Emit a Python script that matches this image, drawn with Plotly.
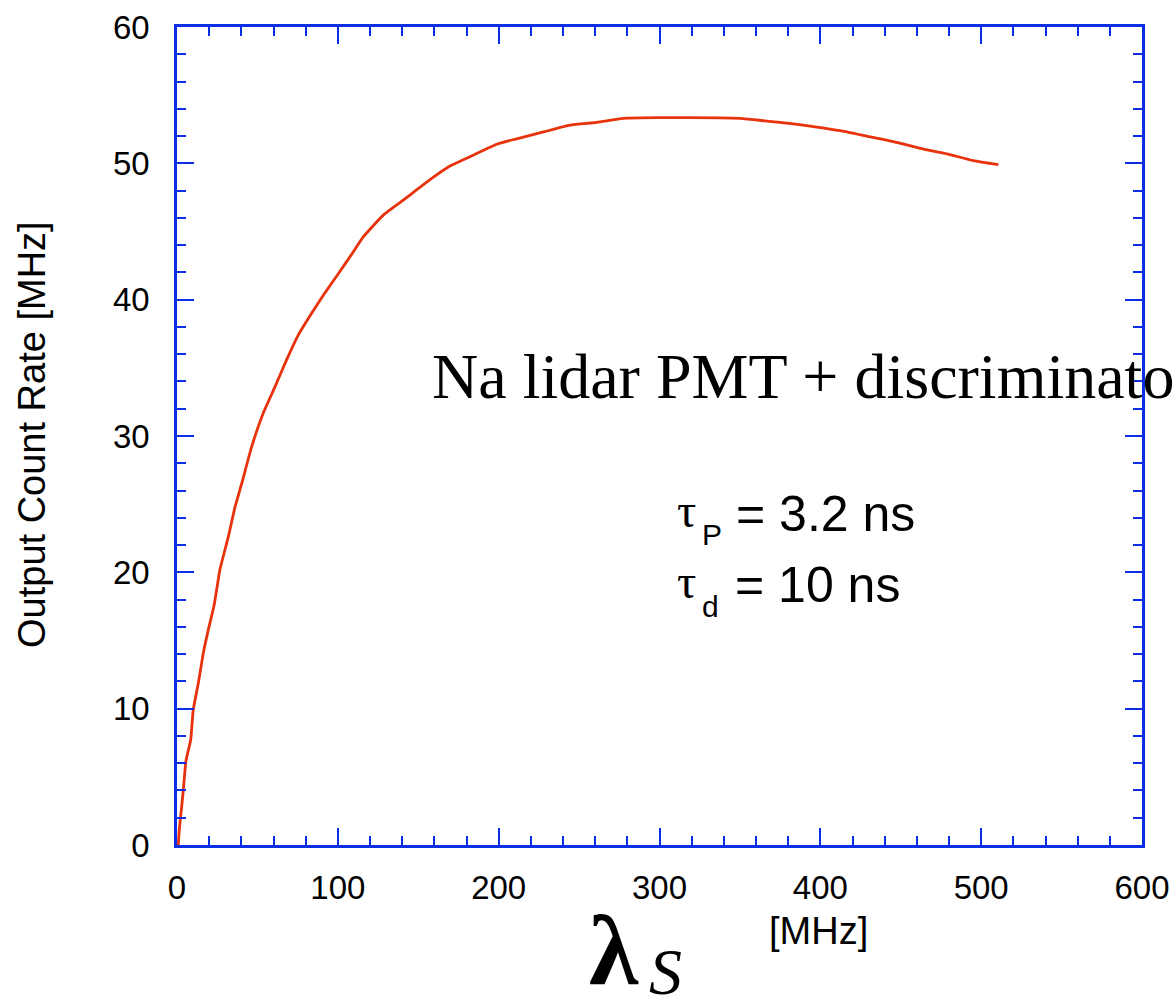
import plotly.graph_objects as go

# Data
lambda_s_mhz = [0.8, 1.4, 2.9, 3.9, 5.6, 8.5, 10.1, 13.3, 16.4, 19.5, 23.1, 26.7, 31.9,
                36.1, 40.2, 46.4, 53.7, 60.9, 68.2, 75.4, 83.7, 92.0, 100.3, 109.6, 115.8,
                128.3, 140.7, 157.3, 169.7, 184.2, 198.8, 211.2, 227.8, 244.4, 261.0, 277.5,
                300.0, 350.0, 366.7, 383.2, 395.6, 412.2, 428.8, 445.4, 462.0, 478.6, 495.1,
                510.7]
output_rate_mhz = [0.0, 1.1, 2.8, 4.0, 6.2, 7.7, 9.9, 11.9, 14.1, 15.8, 17.6, 20.2, 22.6,
                   24.8, 26.5, 29.2, 31.7, 33.6, 35.6, 37.4, 39.0, 40.5, 41.9, 43.5, 44.6,
                   46.2, 47.3, 48.8, 49.8, 50.6, 51.4, 51.8, 52.3, 52.8, 53.0, 53.3,
                   53.35, 53.3, 53.1, 52.9, 52.7, 52.4, 52.0, 51.6, 51.1, 50.7, 50.2,
                   49.9]

x_tick_vals = [0, 100, 200, 300, 400, 500, 600]
y_tick_vals = [0, 10, 20, 30, 40, 50, 60]

AXIS_BLUE = "#0b2ee6"
CURVE_RED = "#e8320c"

W, H = 1174, 1000
L, T = 177, 27
PW, PH = 965, 818
R, B = W - L - PW, H - T - PH


def px(xp):
    return (xp - L) / PW


def py(yp):
    return (T + PH - yp) / PH


fig = go.Figure()
fig.add_trace(go.Scatter(x=lambda_s_mhz, y=output_rate_mhz, mode="lines",
                         line=dict(color=CURVE_RED, width=2.8, shape="spline", smoothing=0.5),
                         showlegend=False))

axis_common = dict(
    showline=True, linecolor=AXIS_BLUE, linewidth=2.5, mirror="ticks",
    ticks="inside", tickcolor=AXIS_BLUE, tickwidth=2, ticklen=17,
    showgrid=False, zeroline=False,
    tickfont=dict(family="Liberation Sans, Arial", size=33, color="black"),
)

fig.update_xaxes(range=[0, 600], tickvals=x_tick_vals, ticklabelstandoff=12,
                 minor=dict(dtick=20, ticks="inside", ticklen=9, tickcolor=AXIS_BLUE, tickwidth=2),
                 **axis_common)
fig.update_yaxes(range=[0, 60], tickvals=y_tick_vals, ticklabelstandoff=18,
                 minor=dict(dtick=2, ticks="inside", ticklen=9, tickcolor=AXIS_BLUE, tickwidth=2),
                 **axis_common)

ann = []
ann.append(dict(text="Na lidar PMT + discriminator", x=157.5, y=34.4, xref="x", yref="y",
                xanchor="left", yanchor="middle", showarrow=False,
                font=dict(family="Liberation Serif, Times New Roman", size=64, color="black")))
# tau_P line
ann.append(dict(text="τ", x=309.6, y=24.5, xref="x", yref="y", xanchor="left", yanchor="middle",
                showarrow=False, font=dict(family="Liberation Serif", size=48, color="black")))
ann.append(dict(text="P", x=325.2, y=22.8, xref="x", yref="y", xanchor="left", yanchor="middle",
                showarrow=False, font=dict(family="Liberation Sans", size=30, color="black")))
ann.append(dict(text="= 3.2 ns", x=346.5, y=24.3, xref="x", yref="y", xanchor="left", yanchor="middle",
                showarrow=False, font=dict(family="Liberation Sans", size=50, color="black")))
# tau_d line
ann.append(dict(text="τ", x=309.6, y=19.3, xref="x", yref="y", xanchor="left", yanchor="middle",
                showarrow=False, font=dict(family="Liberation Serif", size=48, color="black")))
ann.append(dict(text="d", x=325.2, y=17.5, xref="x", yref="y", xanchor="left", yanchor="middle",
                showarrow=False, font=dict(family="Liberation Sans", size=30, color="black")))
ann.append(dict(text="= 10 ns", x=345.5, y=19.1, xref="x", yref="y", xanchor="left", yanchor="middle",
                showarrow=False, font=dict(family="Liberation Sans", size=50, color="black")))
# axis titles
ann.append(dict(text="Output Count Rate [MHz]", x=px(32), y=py(435), xref="paper", yref="paper",
                xanchor="center", yanchor="middle", textangle=-90, showarrow=False,
                font=dict(family="Liberation Sans", size=38, color="black")))
ann.append(dict(text="<b>λ</b>", x=px(614), y=py(950), xref="paper", yref="paper",
                xanchor="center", yanchor="middle", showarrow=False,
                font=dict(family="Liberation Serif", size=100, color="black")))
ann.append(dict(text="<i>S</i>", x=px(665), y=py(972), xref="paper", yref="paper",
                xanchor="center", yanchor="middle", showarrow=False,
                font=dict(family="Liberation Serif", size=66, color="black")))
ann.append(dict(text="[MHz]", x=px(818), y=py(931), xref="paper", yref="paper",
                xanchor="center", yanchor="middle", showarrow=False,
                font=dict(family="Liberation Sans", size=38, color="black")))

fig.update_layout(width=W, height=H, margin=dict(l=L, r=R, t=T, b=B, autoexpand=False),
                  plot_bgcolor="white", paper_bgcolor="white", annotations=ann)

fig.write_html("out.html", config={"displayModeBar": False},
               post_script="document.body.style.margin='0';document.body.style.overflow='hidden';")
